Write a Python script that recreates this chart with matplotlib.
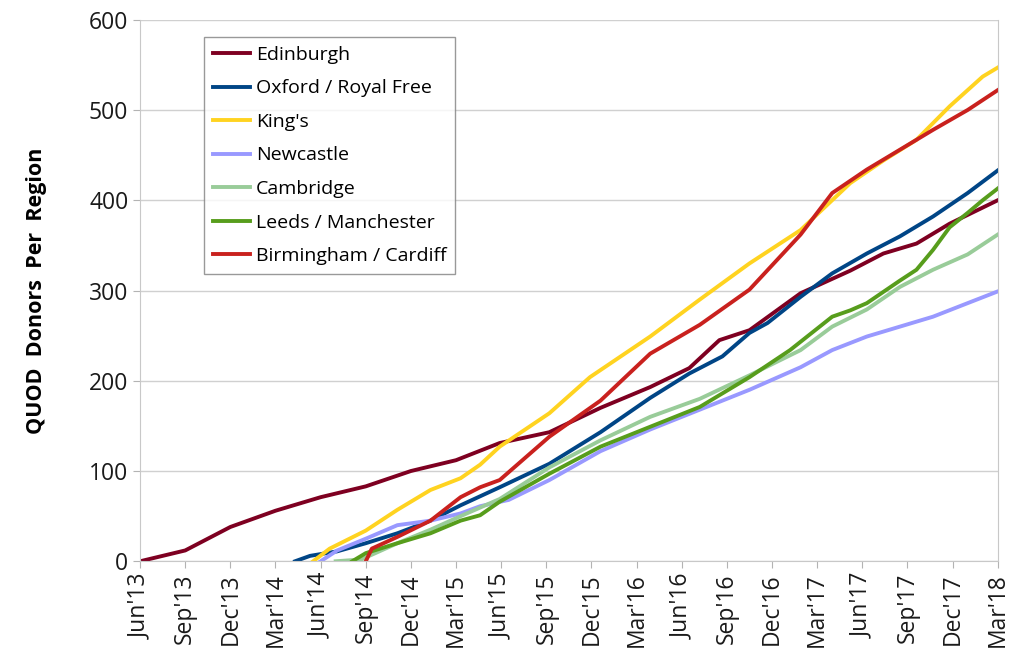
import matplotlib.pyplot as plt

# x values are months since Jun 2013
tick_labels = ["Jun'13", "Sep'13", "Dec'13", "Mar'14", "Jun'14", "Sep'14", "Dec'14",
               "Mar'15", "Jun'15", "Sep'15", "Dec'15", "Mar'16", "Jun'16", "Sep'16",
               "Dec'16", "Mar'17", "Jun'17", "Sep'17", "Dec'17", "Mar'18"]

edinburgh_m = [0, 3, 6, 9, 12, 15, 18, 21, 23.9, 27.2, 30.6, 33.9, 36.5, 38.5, 40.5,
               43.9, 47.2, 49.4, 51.6, 53.8, 57]
edinburgh = [0, 12, 38, 56, 71, 83, 100, 112, 131, 143, 170, 193, 214, 245, 256,
             297, 322, 341, 352, 374, 400]

oxford_m = [10.3, 11.3, 13.1, 15, 17.1, 19.3, 21.3, 23.9, 27.2, 30.6, 33.9, 36.5, 38.7,
            40.5, 41.7, 43.9, 46, 48.3, 50.5, 52.7, 55, 57]
oxford = [0, 6, 11, 20, 31, 45, 62, 82, 108, 143, 181, 208, 227, 253, 264, 293, 319,
          341, 360, 382, 408, 433]

kings_m = [11.5, 12.6, 15, 17.1, 19.3, 21.3, 22.6, 23.9, 27.2, 29.9, 33.9, 37.2, 40.5,
           43.9, 47.2, 49.4, 51.6, 53.8, 56, 57]
kings = [0, 14, 34, 57, 79, 92, 107, 127, 164, 204, 249, 290, 330, 367, 419, 444, 467,
         504, 537, 547]

newcastle_m = [12, 13.1, 15, 17.1, 19.3, 21.3, 22.6, 24.5, 27.2, 30.6, 33.9, 37.2, 40.5,
               43.9, 46, 48.3, 50.5, 52.7, 55, 57]
newcastle = [0, 12, 25, 40, 45, 53, 61, 68, 90, 122, 146, 168, 190, 215, 234, 249, 260,
             271, 286, 299]

cambridge_m = [13, 14.7, 17.1, 19.3, 21.3, 23.9, 27.2, 30.6, 33.9, 37.2, 40.5, 43.9, 46,
               48.3, 50.5, 52.7, 55, 57]
cambridge = [0, 2, 20, 35, 50, 69, 104, 134, 160, 180, 206, 234, 260, 279, 304, 323,
             340, 362]

leeds_m = [14.1, 15, 17.1, 19.3, 21.3, 22.6, 23.9, 27.2, 30.6, 33.9, 37.2, 40.5, 43.2,
           46, 47.2, 48.3, 50.5, 51.6, 52.7, 53.8, 55, 56, 57]
leeds = [0, 9, 20, 31, 45, 51, 66, 97, 127, 149, 171, 204, 234, 271, 278, 286, 311, 323,
         345, 370, 386, 400, 413]

birmingham_m = [15, 15.4, 17.1, 19.3, 21.3, 22.6, 23.9, 27.2, 30.6, 33.9, 37.2, 40.5,
                43.9, 46, 48.3, 50.5, 52.7, 55, 57]
birmingham = [0, 14, 27, 45, 71, 82, 90, 138, 178, 230, 262, 301, 362, 408, 434, 456,
              478, 500, 522]

plt.rcParams['font.family'] = ['Open Sans', 'DejaVu Sans']

fig = plt.figure(figsize=(10.15, 6.58), dpi=100)
ax = fig.add_axes([0.138, 0.147, 0.845, 0.823])

lw = 2.8
ax.plot(edinburgh_m, edinburgh, color="#7e0021", lw=lw, label="Edinburgh")
ax.plot(oxford_m, oxford, color="#004586", lw=lw, label="Oxford / Royal Free")
ax.plot(kings_m, kings, color="#ffd320", lw=lw, label="King's")
ax.plot(newcastle_m, newcastle, color="#9999ff", lw=lw, label="Newcastle")
ax.plot(cambridge_m, cambridge, color="#99cc99", lw=lw, label="Cambridge")
ax.plot(leeds_m, leeds, color="#579d1c", lw=lw, label="Leeds / Manchester")
ax.plot(birmingham_m, birmingham, color="#c9211e", lw=lw, label="Birmingham / Cardiff")

ax.set_xlim(0, 57)
ax.set_ylim(0, 600)
ax.set_xticks(range(0, 58, 3))
ax.set_xticklabels(tick_labels, rotation=90, fontsize=16.5)
ax.set_yticks(range(0, 601, 100))
ax.tick_params(axis="y", labelsize=16.5)
ax.tick_params(colors="#b3b3b3", labelcolor="#1a1a1a", length=5)
ax.grid(axis="y", color="#d0d0d0", lw=1)
ax.set_axisbelow(True)
for s in ax.spines.values():
    s.set_color("#c8c8c8")
ax.spines["top"].set_visible(False)

ax.set_ylabel("QUOD  Donors  Per  Region", fontsize=15.5, fontweight="bold", labelpad=30)

leg = ax.legend(loc="upper left", bbox_to_anchor=(0.075, 0.968), fontsize=14,
                frameon=True, fancybox=False, handlelength=1.9, handletextpad=0.3,
                labelspacing=0.8, borderpad=0.45, borderaxespad=0)
leg.get_frame().set_edgecolor("#808080")
leg.get_frame().set_linewidth(1)

plt.savefig("out.png", dpi=100)
